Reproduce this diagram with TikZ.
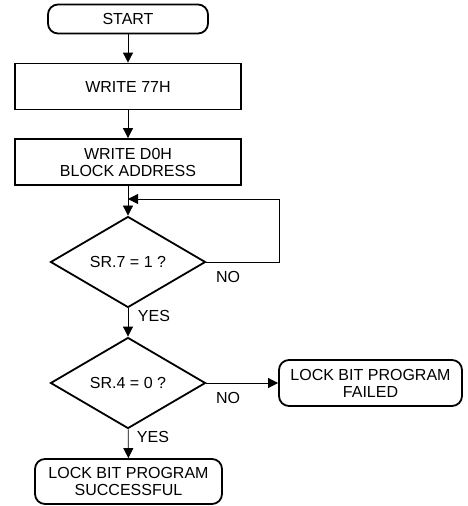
\documentclass[tikz,border=0pt]{standalone}
\usepackage{fontspec}
\setmainfont{Liberation Sans}
\usetikzlibrary{shapes,arrows.meta}

\tikzset{
  term/.style={shape=rectangle,rounded corners=10pt,draw=black,align=center,line width=1.8pt,inner sep=0pt},
  block/.style={shape=rectangle,draw=black,align=center,line width=1.8pt,minimum width=226pt,minimum height=46pt,inner sep=0pt},
  decision/.style={shape=diamond,draw=black,align=center,line width=1.8pt,minimum width=155pt,minimum height=91pt,inner sep=0pt},
  tag/.style={inner sep=0pt},
  flow/.style={->,>={Triangle[length=10pt,width=10pt]},draw=black,line width=0.8pt},
}

\begin{document}
\begin{tikzpicture}[x=1pt,y=-1pt,font=\fontsize{16}{17}\selectfont]
\useasboundingbox (0,0) rectangle (467,506);
\node[term,minimum width=160pt,minimum height=29pt] (0) at (128,19) {START};
\node[block] (1) at (128,86.5) {WRITE 77H};
\node[block] (2) at (128,162) {WRITE D0H\\BLOCK ADDRESS};
\node[decision] (3) at (128,262) {SR.7 = 1 ?};
\node[decision] (4) at (128,383) {SR.4 = 0 ?};
\node[term,minimum width=183pt,minimum height=46pt] (5) at (370.5,383) {LOCK BIT PROGRAM\\FAILED};
\node[term,minimum width=187pt,minimum height=45pt] (6) at (128.5,481.5) {LOCK BIT PROGRAM\\SUCCESSFUL};
\coordinate (c0) at (279,199);
\coordinate (c1) at (128,199);

\node[tag] (7) at (228,277) {NO};
\node[tag] (8) at (154,316) {YES};
\node[tag] (9) at (228,398) {NO};
\node[tag] (10) at (153,437) {YES};

\path [flow] (0) edge node {} (1);
\path [flow] (1) edge node {} (2);
\path [flow] (2) edge node {} (3);
\path [flow] (3.east) -| (c0) -- (c1);
\path [flow] (3) edge node {} (4);
\path [flow] (4) edge node {} (5);
\path [flow] (4) edge node {} (6);
\end{tikzpicture}
\end{document}
